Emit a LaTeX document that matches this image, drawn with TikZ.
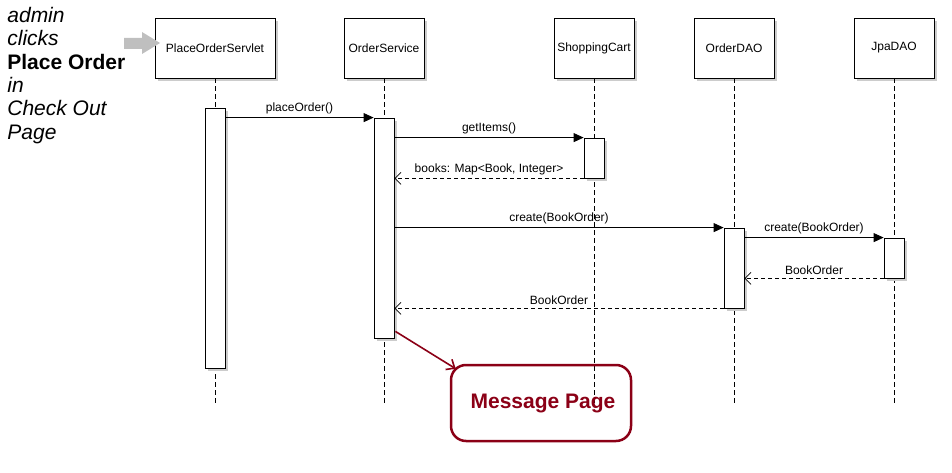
\documentclass[tikz,border=0pt]{standalone}
\usepackage{fontspec}
\setmainfont{Liberation Sans}
\usetikzlibrary{arrows.meta,shadows,positioning}
\definecolor{msgred}{RGB}{139,0,22}
\tikzset{
  shade/.style={drop shadow={shadow xshift=3pt, shadow yshift=-3pt, fill=black!20, opacity=1}},
  obj/.style={draw, fill=white, shade, minimum width=80pt, minimum height=60pt, inner sep=0pt, font=\fontsize{12}{14}\selectfont},
  act/.style={draw, fill=white, shade, minimum width=20pt, inner sep=0pt},
  life/.style={dash pattern=on 5pt off 3pt},
  call/.style={-{Triangle[length=10pt,width=9pt]}},
  ret/.style={dash pattern=on 4pt off 3pt, -{Straight Barb[length=6pt,width=12pt]}},
  lbl/.style={above, inner sep=3pt, font=\fontsize{12}{14}\selectfont},
  msgbox/.style={draw=msgred, text=msgred, line width=2.5pt, rounded corners=15pt, minimum width=180pt, minimum height=76pt, font=\fontsize{21}{24}\selectfont\bfseries}
}
\begin{document}
\begin{tikzpicture}[x=1pt, y=-1pt, line width=0.8pt]
    \useasboundingbox (0,0) rectangle (952,473);

    % 1. 对象头
    \node[obj, minimum width=120pt] (sv) at (215,48) {PlaceOrderServlet};
    \node[obj] (os)  at (384,48) {OrderService};
    \node[obj] (sc)  at (594,48) {ShoppingCart};
    \node[obj] (dao) at (734,48) {OrderDAO};
    \node[obj] (jpa) at (894,48) {JpaDAO};

    % 2. 生命线
    \foreach \n in {sv,os,sc,dao,jpa}
        \draw[life] (\n.south) -- (\n.south |- 0,403);

    % 3. 激活条
    \node[act, minimum height=260pt] (sva)  at (215,238) {};
    \node[act, minimum height=220pt] (osa)  at (384,228) {};
    \node[act, minimum height=40pt]  (sca)  at (594,158) {};
    \node[act, minimum height=80pt]  (daoa) at (734,268) {};
    \node[act, minimum height=40pt]  (jpaa) at (894,258) {};

    % 4. 消息
    \draw[call] ([yshift=-10pt]sva.north east) -- node[lbl] {placeOrder()} (osa.north west);
    \draw[call] ([yshift=-20pt]osa.north east) -- node[lbl] {getItems()} (sca.north west);
    \draw[ret] (sca.south west) -- node[lbl] {books: Map<Book, Integer>} (osa.east |- sca.south);
    \draw[call] (osa.east |- daoa.north) -- node[lbl] {create(BookOrder)} (daoa.north west);
    \draw[call] ([yshift=-10pt]daoa.north east) -- node[lbl] {create(BookOrder)} (jpaa.north west);
    \draw[ret] (jpaa.south west) -- node[lbl] {BookOrder} (daoa.east |- jpaa.south);
    \draw[ret] (daoa.south west) -- node[lbl] {BookOrder} (osa.east |- daoa.south);

    % 5. 左侧说明与灰色箭头
    \node[anchor=north west, align=left, inner sep=0pt,
          font=\fontsize{21}{23.3}\selectfont] (note) at (7,7)
        {\textit{admin}\\\textit{clicks}\\\textbf{Place Order}\\\textit{in}\\\textit{Check Out}\\\textit{Page}};
    \fill[black!25] (124,38) -- (142,38) -- (142,32) -- (160,43) -- (142,54) -- (142,49) -- (124,49) -- cycle;

    % 6. 结果页面
    \node[msgbox] (msg) at (541,403) {\hspace{4pt}Message Page};
    \draw[msgred, line width=1.6pt, -{Straight Barb[length=7pt,width=12pt]}]
        ([shift={(1pt,7pt)}]osa.south east) -- ([shift={(6pt,-5pt)}]msg.north west);
\end{tikzpicture}
\end{document}
